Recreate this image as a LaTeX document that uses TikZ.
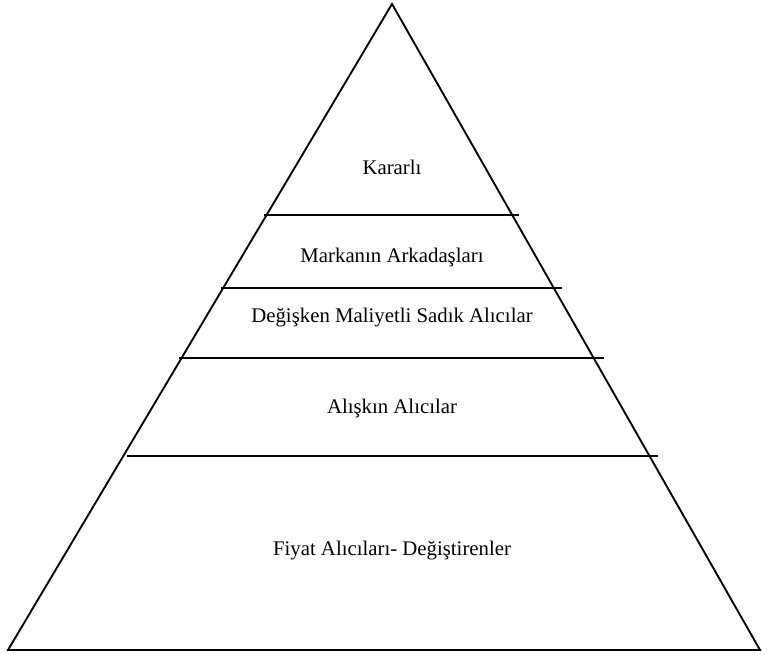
\documentclass[tikz,border=0pt]{standalone}
\usepackage{fontspec}
\setmainfont{Liberation Serif}
\begin{document}
\begin{tikzpicture}[x=0.75pt,y=-0.75pt,
  edge/.style={line width=1.4pt},
  level/.style={font=\fontsize{15.6}{18}\selectfont, inner sep=0pt}]
\useasboundingbox (0,0) rectangle (767,655);
% outline of the pyramid
\coordinate (apex) at (392,4);
\coordinate (bl) at (8,650);
\coordinate (br) at (760,650);
\draw[edge, line join=miter] (bl) -- (apex) -- (br) -- cycle;
% dividing lines between the levels
\coordinate (d1l) at (264,215); \coordinate (d1r) at (519,215);
\coordinate (d2l) at (221,288); \coordinate (d2r) at (562,288);
\coordinate (d3l) at (179,358); \coordinate (d3r) at (604,358);
\coordinate (d4l) at (127,456); \coordinate (d4r) at (658,456);
\draw[edge] (d1l) -- (d1r);
\draw[edge] (d2l) -- (d2r);
\draw[edge] (d3l) -- (d3r);
\draw[edge] (d4l) -- (d4r);
% level labels
\node[level] (l1) at (392,167) {Kararlı};
\node[level] (l2) at (392,258) {Markanın Arkadaşları};
\node[level] (l3) at (392,318) {Değişken Maliyetli Sadık Alıcılar};
\node[level] (l4) at (392,408) {Alışkın Alıcılar};
\node[level] (l5) at (392,551) {Fiyat Alıcıları- Değiştirenler};
\end{tikzpicture}
\end{document}
